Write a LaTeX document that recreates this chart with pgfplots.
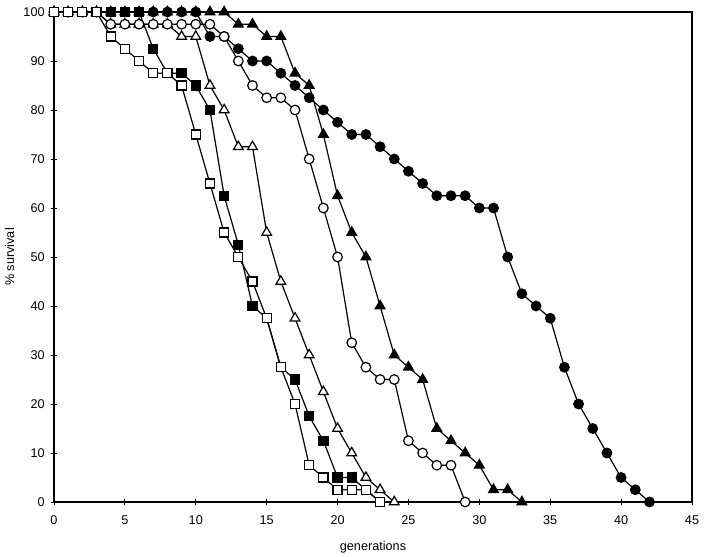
\documentclass[border=0pt]{standalone}
\usepackage{pgfplots}
\pgfplotsset{compat=1.18}
\usepackage{fontspec}
\setmainfont{Liberation Sans}
\begin{document}
\begin{tikzpicture}[x=0.75pt,y=0.75pt]
\begin{axis}[
  scale only axis,
  width=478.5pt, height=367.5pt,
  xmin=0, xmax=45, ymin=0, ymax=100,
  xtick={0,5,...,45}, ytick={0,10,...,100},
  tick align=center, major tick length=4pt,
  xtick pos=bottom, ytick pos=left,
  /pgf/number format/assume math mode=true,
  ticklabel style={font=\fontsize{9.5}{11}\selectfont},
  xticklabel style={yshift=-4.5pt},
  yticklabel style={xshift=-1.5pt},
  label style={font=\fontsize{9.5}{11}\selectfont},
  xlabel={generations}, ylabel={\% survival},
  xlabel style={yshift=-6pt},
  ylabel style={yshift=0pt},
  axis line style={line width=0.9pt},
  every tick/.style={line width=0.6pt, black},
  clip=false,
  every axis plot/.append style={black, line width=0.9pt},
]
% filled circles
\addplot[mark=*, mark size=3.6pt, mark options={fill=black}] coordinates {
(0,100)(1,100)(2,100)(3,100)(4,100)(5,100)(6,100)(7,100)(8,100)(9,100)(10,100)
(11,95)(12,95)(13,92.5)(14,90)(15,90)(16,87.5)(17,85)(18,82.5)(19,80)(20,77.5)
(21,75)(22,75)(23,72.5)(24,70)(25,67.5)(26,65)(27,62.5)(28,62.5)(29,62.5)(30,60)
(31,60)(32,50)(33,42.5)(34,40)(35,37.5)(36,27.5)(37,20)(38,15)(39,10)(40,5)(41,2.5)(42,0)};
% filled triangles
\addplot[mark=triangle*, mark size=4.2pt, mark options={fill=black}] coordinates {
(0,100)(1,100)(2,100)(3,100)(4,100)(5,100)(6,100)(7,100)(8,100)(9,100)(10,100)(11,100)(12,100)
(13,97.5)(14,97.5)(15,95)(16,95)(17,87.5)(18,85)(19,75)(20,62.5)(21,55)(22,50)(23,40)
(24,30)(25,27.5)(26,25)(27,15)(28,12.5)(29,10)(30,7.5)(31,2.5)(32,2.5)(33,0)};
% open triangles
\addplot[mark=triangle*, mark size=4.2pt, mark options={fill=white}] coordinates {
(0,100)(1,100)(2,100)(3,100)(4,97.5)(5,97.5)(6,97.5)(7,97.5)(8,97.5)(9,95)(10,95)
(11,85)(12,80)(13,72.5)(14,72.5)(15,55)(16,45)(17,37.5)(18,30)(19,22.5)(20,15)
(21,10)(22,5)(23,2.5)(24,0)};
% filled squares
\addplot[mark=square*, mark size=3.4pt, mark options={fill=black}] coordinates {
(0,100)(1,100)(2,100)(3,100)(4,100)(5,100)(6,100)(7,92.5)(8,87.5)(9,87.5)(10,85)
(11,80)(12,62.5)(13,52.5)(14,40)(15,37.5)(16,27.5)(17,25)(18,17.5)(19,12.5)(20,5)
(21,5)(22,2.5)(23,0)};
% open circles
\addplot[mark=*, mark size=3.6pt, mark options={fill=white}] coordinates {
(0,100)(1,100)(2,100)(3,100)(4,97.5)(5,97.5)(6,97.5)(7,97.5)(8,97.5)(9,97.5)(10,97.5)
(11,97.5)(12,95)(13,90)(14,85)(15,82.5)(16,82.5)(17,80)(18,70)(19,60)(20,50)
(21,32.5)(22,27.5)(23,25)(24,25)(25,12.5)(26,10)(27,7.5)(28,7.5)(29,0)};
% open squares
\addplot[mark=square*, mark size=3.4pt, mark options={fill=white}] coordinates {
(0,100)(1,100)(2,100)(3,100)(4,95)(5,92.5)(6,90)(7,87.5)(8,87.5)(9,85)(10,75)
(11,65)(12,55)(13,50)(14,45)(15,37.5)(16,27.5)(17,20)(18,7.5)(19,5)(20,2.5)
(21,2.5)(22,2.5)(23,0)};
\end{axis}
\pgfresetboundingbox
\path[use as bounding box] ([shift={(-40.5pt,-40.5pt)}]current axis.south west) rectangle ([shift={(9pt,9pt)}]current axis.north east);
\end{tikzpicture}
\end{document}
